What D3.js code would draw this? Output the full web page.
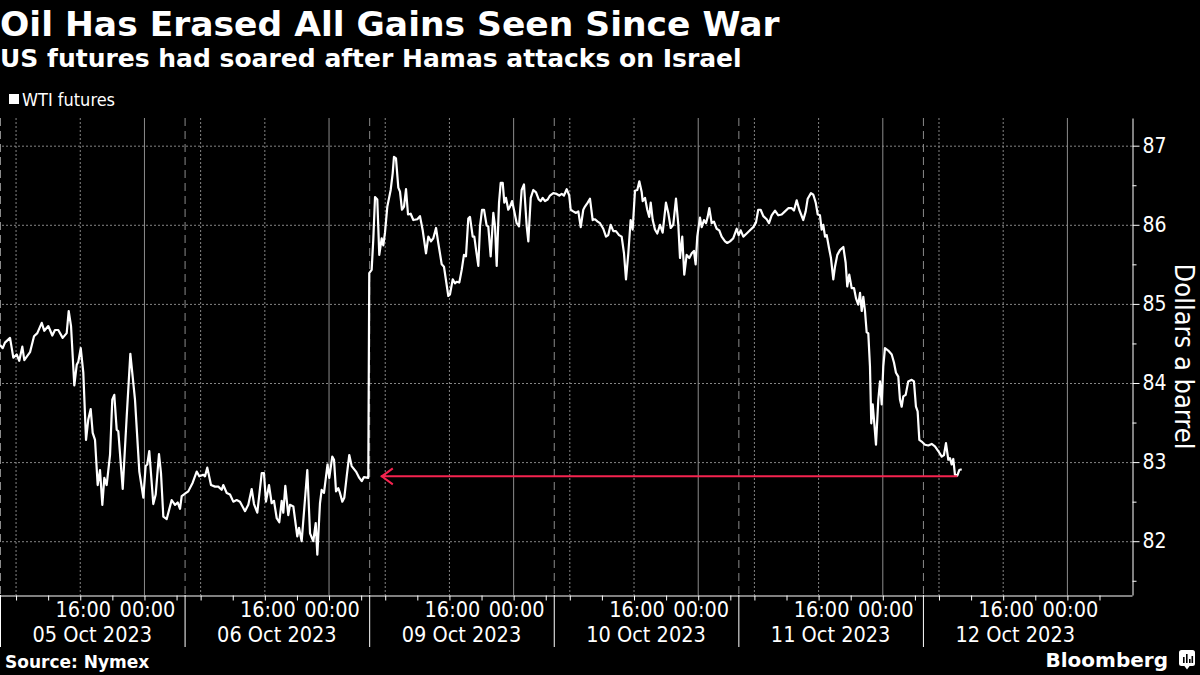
<!DOCTYPE html>
<html>
<head>
<meta charset="utf-8">
<script src="https://cdn.jsdelivr.net/npm/d3@7"></script>
<style>
	body { margin: 0; background: #000; }
	svg { display: block; }
</style>
</head>
<body>
<script>
// Each trading session runs 06:00 -> 05:00 HKT (23 h); non-trading time is cut out.
// Points are [hours after the session open, WTI price in $/bbl].
const sessionDates = ['05 Oct 2023', '06 Oct 2023', '09 Oct 2023', '10 Oct 2023', '11 Oct 2023', '12 Oct 2023'];
const sessionHours = 23;

const oct05 = [[0,84.48],[0.34,84.44],[0.62,84.51],[1.25,84.57],[1.66,84.32],[2.08,84.36],[2.40,84.28],[2.78,84.46],[3.03,84.29],[3.74,84.39],[4.24,84.59],[4.65,84.63],[5.20,84.76],[5.52,84.66],[6.02,84.72],[6.52,84.60],[6.85,84.67],[7.26,84.67],[7.81,84.57],[8.31,84.63],[8.56,84.91],[8.85,84.72],[9.26,83.97],[9.56,84.23],[9.76,84.27],[10.06,84.44],[10.38,84.13],[10.72,83.28],[11.00,83.54],[11.30,83.67],[11.55,83.37],[11.84,83.28],[12.17,82.71],[12.46,82.90],[12.75,82.46],[13.00,82.80],[13.29,82.71],[13.71,83.09],[13.99,83.79],[14.24,83.85],[14.54,83.41],[14.74,83.39],[15.29,82.66],[15.79,83.58],[16.24,84.37],[16.82,83.79],[17.36,82.88],[17.86,82.55],[18.15,82.95],[18.35,82.97],[18.60,83.14],[18.81,82.86],[19.10,82.47],[19.40,82.59],[19.81,83.10],[20.06,82.86],[20.35,82.31],[20.77,82.28],[21.39,82.52],[21.81,82.46],[22.14,82.49],[22.43,82.41],[22.64,82.57]];
const oct06 = [[0.18,82.61],[0.46,82.63],[1.01,82.74],[1.51,82.88],[1.83,82.82],[2.33,82.84],[2.54,82.82],[2.83,82.93],[3.29,82.71],[3.79,82.69],[4.20,82.69],[4.62,82.65],[4.82,82.71],[5.25,82.61],[5.66,82.59],[6.07,82.50],[6.49,82.52],[6.90,82.50],[7.53,82.38],[7.94,82.46],[8.36,82.66],[8.65,82.47],[9.06,82.36],[9.61,82.86],[9.89,82.86],[10.14,82.50],[10.52,82.71],[10.85,82.48],[11.14,82.51],[11.48,82.29],[11.80,82.24],[12.10,82.51],[12.30,82.36],[12.55,82.70],[12.92,82.33],[13.13,82.46],[13.55,82.44],[14.04,82.06],[14.26,82.17],[14.59,82.00],[15.29,82.90],[15.63,82.10],[16.04,82.00],[16.34,82.23],[16.54,81.83],[16.87,82.48],[17.08,82.65],[17.37,82.61],[17.81,82.97],[18.03,82.80],[18.40,83.07],[18.62,83.03],[18.87,82.63],[19.15,82.67],[19.36,82.61],[19.65,82.50],[19.90,82.55],[20.20,82.82],[20.52,83.09],[20.82,82.95],[21.36,82.88],[21.77,82.80],[22.07,82.76],[22.35,82.81],[22.89,82.80]];
const oct09 = [[0.01,85.39],[0.31,85.43],[0.51,85.81],[0.73,86.35],[1.01,86.32],[1.26,85.62],[1.56,85.83],[1.76,85.74],[1.97,85.90],[2.26,86.23],[2.68,86.44],[2.93,86.65],[3.09,86.86],[3.34,86.84],[3.63,86.47],[3.84,86.42],[4.09,86.19],[4.34,86.23],[4.59,86.45],[4.84,86.13],[5.17,86.14],[5.50,86.06],[6.00,86.07],[6.33,86.11],[6.67,85.93],[7.08,85.64],[7.37,85.85],[7.70,85.79],[7.99,85.83],[8.33,85.96],[8.61,85.77],[9.04,85.50],[9.32,85.47],[9.86,85.10],[10.07,85.12],[10.41,85.31],[10.69,85.26],[10.90,85.28],[11.23,85.27],[11.53,85.43],[11.81,85.62],[12.06,85.60],[12.35,86.08],[12.56,86.10],[12.90,85.85],[13.10,85.85],[13.31,85.69],[13.60,85.48],[13.81,85.98],[14.06,86.19],[14.31,86.19],[14.64,85.99],[14.84,85.98],[15.14,85.60],[15.47,86.15],[15.68,85.98],[15.89,85.48],[16.18,86.28],[16.39,86.53],[16.64,86.53],[16.84,86.28],[17.05,86.34],[17.33,86.19],[17.55,86.23],[17.80,86.30],[18.08,86.17],[18.38,86.02],[18.67,85.98],[19.00,86.44],[19.29,86.51],[19.63,85.98],[19.83,85.79],[20.13,86.34],[20.45,86.44],[20.79,86.41],[21.12,86.32],[21.37,86.30],[21.62,86.34],[21.91,86.30],[22.24,86.32],[22.53,86.37],[22.94,86.40]];
const oct10 = [[0.36,86.39],[0.69,86.37],[0.99,86.39],[1.27,86.37],[1.61,86.45],[1.93,86.37],[2.11,86.19],[2.43,86.17],[2.77,86.15],[3.06,86.17],[3.36,85.97],[3.68,86.19],[3.89,86.23],[4.23,86.28],[4.51,86.33],[4.85,86.06],[5.14,86.07],[5.47,86.04],[5.76,86.02],[6.17,85.95],[6.51,85.85],[6.79,85.87],[7.09,86.00],[7.42,85.92],[7.75,85.92],[8.13,85.87],[8.46,85.85],[8.75,85.64],[9.00,85.31],[9.29,85.64],[9.58,86.06],[9.83,85.94],[10.12,86.43],[10.41,86.44],[10.66,86.55],[10.96,86.41],[11.08,86.30],[11.37,86.34],[11.65,86.19],[11.90,86.10],[12.08,86.28],[12.33,86.06],[12.61,85.94],[12.90,85.89],[13.24,86.00],[13.57,85.90],[13.98,86.28],[14.27,86.15],[14.57,85.96],[14.89,86.00],[15.23,86.33],[15.52,86.00],[15.73,85.58],[16.01,85.85],[16.26,85.37],[16.56,85.62],[16.89,85.58],[17.19,85.64],[17.47,85.67],[17.68,85.50],[17.88,85.85],[18.22,86.09],[18.43,85.97],[18.72,86.06],[18.97,86.02],[19.18,86.10],[19.38,86.21],[19.68,86.02],[19.96,86.04],[20.30,85.95],[20.62,85.93],[20.92,85.85],[21.34,85.79],[21.62,85.77],[21.96,85.79],[22.37,85.83],[22.79,85.95]];
const oct11 = [[0.04,85.87],[0.29,85.93],[0.62,85.85],[1.04,85.89],[1.45,85.93],[1.86,85.97],[2.20,86.03],[2.48,86.19],[2.78,86.19],[3.11,86.11],[3.53,86.07],[3.82,86.02],[4.15,86.12],[4.57,86.18],[4.98,86.12],[5.40,86.13],[5.81,86.17],[6.22,86.21],[6.65,86.21],[6.93,86.18],[7.27,86.31],[7.59,86.19],[8.09,86.06],[8.39,86.17],[8.64,86.33],[9.05,86.40],[9.34,86.38],[9.64,86.28],[9.89,86.13],[10.17,86.12],[10.38,85.94],[10.58,86.00],[10.80,85.85],[11.01,85.87],[11.29,85.71],[11.54,85.58],[11.83,85.31],[12.04,85.47],[12.33,85.62],[12.66,85.68],[13.08,85.72],[13.37,85.52],[13.57,85.22],[13.82,85.37],[14.12,85.20],[14.41,85.20],[14.66,85.07],[14.94,84.99],[15.16,85.14],[15.37,84.91],[15.57,85.09],[15.78,84.91],[15.99,84.64],[16.19,84.63],[16.40,84.21],[16.56,83.49],[16.74,83.73],[16.94,83.49],[17.15,83.22],[17.44,83.79],[17.65,84.02],[17.86,83.73],[18.06,84.21],[18.27,84.44],[18.68,84.41],[19.11,84.36],[19.39,84.26],[19.64,84.13],[19.93,84.08],[20.14,83.79],[20.35,83.70],[20.55,83.83],[20.85,83.85],[21.17,84.02],[21.60,84.04],[21.88,84.02],[22.13,83.70],[22.34,83.64],[22.55,83.28],[22.84,83.26]];
const oct12 = [[0.26,83.22],[0.67,83.21],[1.09,83.23],[1.50,83.20],[1.91,83.14],[2.34,83.07],[2.62,83.09],[2.87,83.24],[3.16,83.03],[3.37,83.05],[3.58,82.97],[3.78,83.04],[3.99,82.84],[4.28,82.83],[4.53,82.90],[4.83,82.91]];
const sessions = [oct05, oct06, oct09, oct10, oct11, oct12];

const priceTicks = [82, 83, 84, 85, 86, 87];
const priceMinorTicks = [81.5, 82.5, 83.5, 84.5, 85.5, 86.5];
const hourTicks = [2, 6, 10, 14, 18, 22];           // 08:00, 12:00, 16:00, 20:00, 00:00, 04:00
const hourLabels = [[10, '16:00'], [18, '00:00']];
const dottedHours = [2, 10];
const midnightHours = [18];

// pre-war close carried forward to the latest print
const arrow = { from: [2, 1.45], to: [5, 4.28], price: 82.82 };

const W = 1200, H = 675;
const plot = { left: 0, right: 1132, top: 118, bottom: 595 };
const bold = '"DejaVu Sans", sans-serif';
const narrow = '"DejaVu Sans Condensed", "DejaVu Sans", sans-serif';

const at = (s, h) => s * sessionHours + h;

const x = d3.scaleLinear().domain([0, 141.05]).range([plot.left, plot.right]);
const y = d3.scaleLinear().domain([81.32, 87.35]).range([plot.bottom, plot.top]);

let points = sessions.flatMap((pts, i) => pts.map(([h, p]) => ({ t: at(i, h), p: p })));

let svg = d3.select('body').append('svg')
	.attr('width', W)
	.attr('height', H)
	.style('background', '#000');

// horizontal grid
let hgrid = svg.append('g')
	.attr('transform', `translate(${plot.right},0)`)
	.call(d3.axisRight(y).tickValues(priceTicks).tickSize(-plot.right).tickFormat(''));
hgrid.select('.domain').remove();
hgrid.selectAll('line')
	.attr('stroke', '#858585')
	.attr('stroke-dasharray', '2,2');

// vertical grid, per session
let vgrid = svg.append('g');
sessions.forEach((_, s) => {
	vgrid.append('line')
		.attr('x1', x(at(s, 0)) + 0.5).attr('x2', x(at(s, 0)) + 0.5)
		.attr('y1', plot.top).attr('y2', plot.bottom)
		.attr('stroke', '#8a8a8a')
		.attr('stroke-dasharray', '8,5');
	dottedHours.forEach(h => {
		vgrid.append('line')
			.attr('x1', x(at(s, h))).attr('x2', x(at(s, h)))
			.attr('y1', plot.top).attr('y2', plot.bottom)
			.attr('stroke', '#858585')
			.attr('stroke-dasharray', '2,2');
	});
	midnightHours.forEach(h => {
		vgrid.append('line')
			.attr('x1', x(at(s, h))).attr('x2', x(at(s, h)))
			.attr('y1', plot.top).attr('y2', plot.bottom)
			.attr('stroke', '#8c8c8c');
	});
});

let line = d3.line()
	.x(d => x(d.t))
	.y(d => y(d.p));

svg.append('path')
	.datum(points)
	.attr('d', line)
	.attr('fill', 'none')
	.attr('stroke', '#fff')
	.attr('stroke-width', 2.2)
	.attr('stroke-linejoin', 'round');

// red arrow
let ax0 = x(at(...arrow.from)), ax1 = x(at(...arrow.to)), ay = y(arrow.price);
let red = svg.append('g')
	.attr('fill', 'none')
	.attr('stroke', '#f5234f')
	.attr('stroke-width', 2);
red.append('line')
	.attr('x1', ax0).attr('x2', ax1)
	.attr('y1', ay).attr('y2', ay);
red.append('polyline')
	.attr('points', [[ax0 + 12, ay - 8], [ax0 + 1, ay], [ax0 + 12, ay + 8]].join(' '));

// x axis
let tickTimes = sessions.flatMap((_, s) => hourTicks.map(h => at(s, h)));
let xAxis = svg.append('g')
	.attr('transform', `translate(0,${plot.bottom + 0.5})`)
	.call(d3.axisBottom(x).tickValues(tickTimes).tickSize(5).tickSizeOuter(0).tickFormat(''));
xAxis.selectAll('path, line').attr('stroke', '#fff');

sessions.forEach((_, s) => {
	svg.append('line')
		.attr('x1', x(at(s, 0)) + 0.5).attr('x2', x(at(s, 0)) + 0.5)
		.attr('y1', plot.bottom).attr('y2', 647)
		.attr('stroke', '#fff');
	hourLabels.forEach(([h, label]) => {
		svg.append('text')
			.attr('x', x(at(s, h)) + 3)
			.attr('y', 617)
			.attr('text-anchor', 'middle')
			.style('font-family', narrow)
			.style('font-size', '21.5px')
			.style('fill', '#fff')
			.text(label);
	});
	svg.append('text')
		.attr('x', x(at(s, sessionHours / 2)))
		.attr('y', 642)
		.attr('text-anchor', 'middle')
		.style('font-family', narrow)
		.style('font-size', '21.5px')
		.style('fill', '#fff')
		.text(sessionDates[s]);
});

// y axis
let yAxis = svg.append('g')
	.attr('transform', `translate(${plot.right + 0.5},0)`)
	.call(d3.axisRight(y).tickValues(priceTicks).tickSize(7).tickPadding(3).tickSizeOuter(0).tickFormat(d3.format('d')));
yAxis.selectAll('path, line').attr('stroke', '#fff');
yAxis.selectAll('text')
	.style('font-family', narrow)
	.style('font-size', '21px')
	.style('fill', '#fff');

let yMinor = svg.append('g')
	.attr('transform', `translate(${plot.right + 0.5},0)`)
	.call(d3.axisRight(y).tickValues(priceMinorTicks).tickSize(4).tickFormat(''));
yMinor.select('.domain').remove();
yMinor.selectAll('line').attr('stroke', '#fff');

svg.append('text')
	.attr('transform', `translate(1175,${(plot.top + plot.bottom) / 2}) rotate(90)`)
	.attr('text-anchor', 'middle')
	.style('font-family', narrow)
	.style('font-size', '27px')
	.style('fill', '#fff')
	.text('Dollars a barrel');

// titles and legend
svg.append('text')
	.attr('x', 0).attr('y', 36)
	.style('font-family', bold)
	.style('font-weight', 'bold')
	.style('font-size', '34.5px')
	.style('fill', '#fff')
	.text('Oil Has Erased All Gains Seen Since War');

svg.append('text')
	.attr('x', 0).attr('y', 67)
	.style('font-family', bold)
	.style('font-weight', 'bold')
	.style('font-size', '25px')
	.style('fill', '#fff')
	.text('US futures had soared after Hamas attacks on Israel');

svg.append('rect')
	.attr('x', 9).attr('y', 94)
	.attr('width', 10).attr('height', 10)
	.attr('fill', '#fff');
svg.append('text')
	.attr('x', 22).attr('y', 106)
	.style('font-family', narrow)
	.style('font-size', '18px')
	.style('fill', '#fff')
	.text('WTI futures');

// footer
svg.append('text')
	.attr('x', 5).attr('y', 668)
	.style('font-family', bold)
	.style('font-weight', 'bold')
	.style('font-size', '17px')
	.style('fill', '#fff')
	.text('Source: Nymex');

svg.append('text')
	.attr('x', 1168).attr('y', 667)
	.attr('text-anchor', 'end')
	.style('font-family', bold)
	.style('font-weight', 'bold')
	.style('font-size', '20px')
	.style('fill', '#fff')
	.text('Bloomberg');

let logo = svg.append('g').attr('transform', 'translate(1179,650)');
logo.append('rect')
	.attr('width', 16).attr('height', 16).attr('rx', 2.5)
	.attr('fill', '#fff');
logo.append('path')
	.attr('d', 'M5,15.5 L8,19.5 L11,15.5 Z')
	.attr('fill', '#fff');
[[4, 6], [7, 9], [10, 4], [12.5, 7]].forEach(([bx, bh]) => {
	logo.append('rect')
		.attr('x', bx).attr('y', 13 - bh)
		.attr('width', 1.6).attr('height', bh)
		.attr('fill', '#000');
});
</script>
</body>
</html>
